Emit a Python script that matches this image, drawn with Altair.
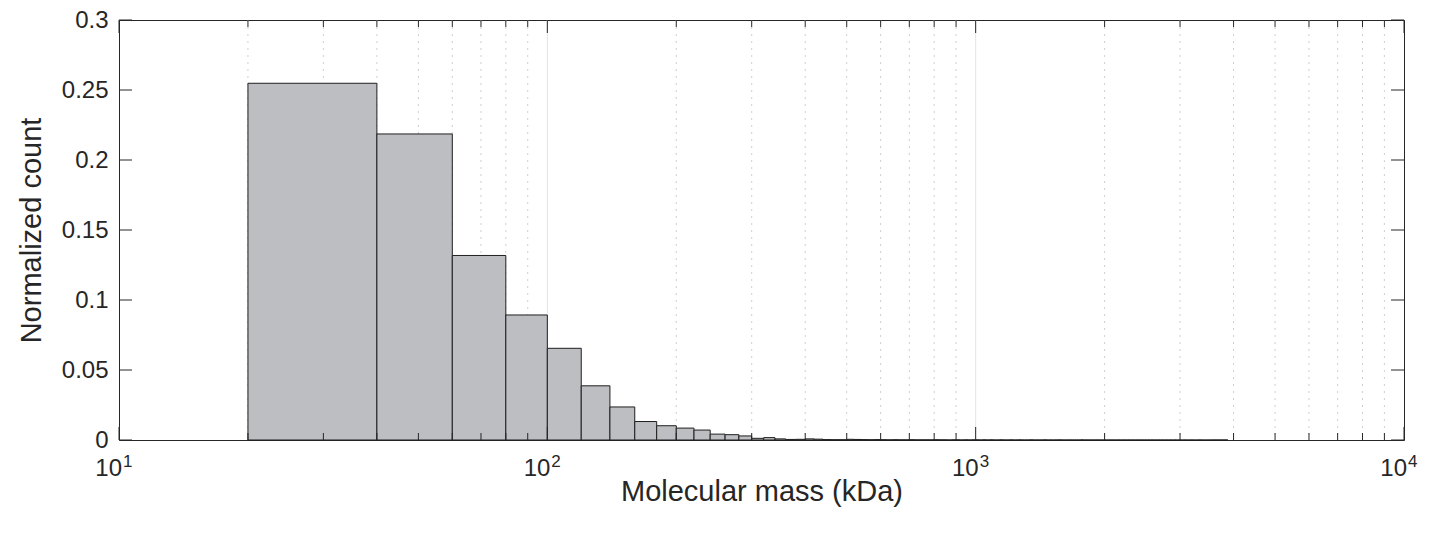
import altair as alt
import pandas as pd

# ---------------- data ----------------
bin_width = 20
bin_first = 20
# normalized counts for 20-kDa bins starting at 20 kDa (20-40, 40-60, ... 980-1000)
head_values = [0.2548, 0.2186, 0.1318, 0.0893, 0.0655, 0.0387, 0.0236, 0.0132, 0.0102, 0.0085,
               0.0071, 0.0042, 0.0038, 0.0029, 0.0012, 0.0017, 0.0008, 0.0004, 0.0005, 0.0008,
               0.0006, 0.0003, 0.0002, 0.0002, 0.0005, 0.0004, 0.0003, 0.0002, 0.0003, 0.0002,
               0.0001, 0.0002, 0.0001, 0.0001, 0.0002, 0.0001, 0.0001, 0.0001, 0.0001, 0.0002,
               0.0001, 0.0001, 0.0, 0.0001, 0.0001, 0.0, 0.0001, 0.0, 0.0001]
# tail bins 1000-1020 ... 3860-3880 (essentially empty)
tail_values = [0.0001, 0.0, 0.0001, 0.0, 0.0001, 0.0, 0.0, 0.0001, 0.0, 0.0, 0.0001, 0.0,
               0.0, 0.0001, 0.0, 0.0, 0.0, 0.0001, 0.0, 0.0, 0.0, 0.0, 0.0001, 0.0,
               0.0, 0.0, 0.0, 0.0, 0.0001, 0.0, 0.0, 0.0, 0.0, 0.0, 0.0, 0.0,
               0.0, 0.0, 0.0001, 0.0, 0.0, 0.0, 0.0, 0.0, 0.0, 0.0, 0.0, 0.0,
               0.0, 0.0, 0.0, 0.0, 0.0, 0.0, 0.0, 0.0, 0.0, 0.0, 0.0, 0.0,
               0.0, 0.0, 0.0, 0.0, 0.0, 0.0, 0.0, 0.0, 0.0, 0.0, 0.0, 0.0,
               0.0, 0.0, 0.0, 0.0, 0.0, 0.0, 0.0, 0.0, 0.0, 0.0, 0.0, 0.0,
               0.0, 0.0, 0.0, 0.0, 0.0, 0.0, 0.0, 0.0, 0.0, 0.0, 0.0, 0.0,
               0.0, 0.0, 0.0, 0.0, 0.0, 0.0, 0.0, 0.0, 0.0, 0.0, 0.0, 0.0,
               0.0, 0.0, 0.0, 0.0, 0.0, 0.0, 0.0, 0.0, 0.0, 0.0, 0.0, 0.0,
               0.0, 0.0, 0.0, 0.0, 0.0, 0.0, 0.0, 0.0, 0.0, 0.0, 0.0, 0.0,
               0.0, 0.0, 0.0, 0.0, 0.0, 0.0, 0.0, 0.0, 0.0, 0.0, 0.0, 0.0]

x_domain = [10, 10000]
y_domain = [0, 0.3]
y_ticks = [0, 0.05, 0.1, 0.15, 0.2, 0.25, 0.3]
x_major = [10, 100, 1000, 10000]
x_major_grid = [100, 1000]
x_minor = [20, 30, 40, 50, 60, 70, 80, 90,
           200, 300, 400, 500, 600, 700, 800, 900,
           2000, 3000, 4000, 5000, 6000, 7000, 8000, 9000]
x_exponents = ["1", "2", "3", "4"]

values = head_values + tail_values
starts = [bin_first + i * bin_width for i in range(len(values))]
bars_df = pd.DataFrame({"start": starts,
                        "end": [s + bin_width for s in starts],
                        "value": values})

W, H = 1285, 420
FONT = "Liberation Sans"
TXT = "#262626"
XT = "Molecular mass (kDa)"
YT = "Normalized count"

xs = alt.Scale(type="log", domain=x_domain, nice=False)
ys = alt.Scale(domain=y_domain, nice=False, zero=False)

maj_df = pd.DataFrame({"v": x_major})
majg_df = pd.DataFrame({"v": x_major_grid})
min_df = pd.DataFrame({"v": x_minor})
yt_df = pd.DataFrame({"v": y_ticks})
lab_df = pd.DataFrame({"v": x_major, "base": ["10"] * 4, "exp": x_exponents})

minor_grid = alt.Chart(min_df).mark_rule(color="#cfcfcf", strokeWidth=1, strokeDash=[2, 5]).encode(
    x=alt.X("v:Q", scale=xs, title=XT))
major_grid = alt.Chart(majg_df).mark_rule(color="#e3e3e3", strokeWidth=1).encode(
    x=alt.X("v:Q", scale=xs, title=XT))

bars = alt.Chart(bars_df).mark_rect(fill="#bdbec2", stroke="#1f1f1f", strokeWidth=1).encode(
    x=alt.X("start:Q", scale=xs, title=XT,
            axis=alt.Axis(labels=False, ticks=False, domain=False, grid=False,
                          titleFont=FONT, titleFontSize=29, titleFontWeight="normal",
                          titleColor=TXT, titleX=W / 2, titleY=60, titleAlign="center",
                          titleBaseline="alphabetic")),
    x2="end:Q",
    y=alt.Y("value:Q", scale=ys, title=YT,
            axis=alt.Axis(values=y_ticks, format="~g", ticks=False, domain=False, grid=False,
                          labelFont=FONT, labelFontSize=24, labelColor=TXT, labelPadding=11,
                          titleFont=FONT, titleFontSize=29, titleFontWeight="normal",
                          titleColor=TXT, titleX=-79, titleY=H / 2, titleAngle=-90,
                          titleAlign="center", titleBaseline="alphabetic")),
    y2=alt.Y2(datum=0),
)

tick_col = "#262626"
bt_major = alt.Chart(maj_df).mark_rule(color=tick_col, strokeWidth=1).encode(
    x=alt.X("v:Q", scale=xs, title=XT), y=alt.value(H), y2=alt.value(H - 13))
tp_major = alt.Chart(maj_df).mark_rule(color=tick_col, strokeWidth=1).encode(
    x=alt.X("v:Q", scale=xs, title=XT), y=alt.value(0), y2=alt.value(13))
bt_minor = alt.Chart(min_df).mark_rule(color=tick_col, strokeWidth=1).encode(
    x=alt.X("v:Q", scale=xs, title=XT), y=alt.value(H), y2=alt.value(H - 7))
tp_minor = alt.Chart(min_df).mark_rule(color=tick_col, strokeWidth=1).encode(
    x=alt.X("v:Q", scale=xs, title=XT), y=alt.value(0), y2=alt.value(7))
yl_ticks = alt.Chart(yt_df).mark_rule(color=tick_col, strokeWidth=1).encode(
    y=alt.Y("v:Q", scale=ys, title=YT), x=alt.value(0), x2=alt.value(13))
yr_ticks = alt.Chart(yt_df).mark_rule(color=tick_col, strokeWidth=1).encode(
    y=alt.Y("v:Q", scale=ys, title=YT), x=alt.value(W - 13), x2=alt.value(W))

base_lab = alt.Chart(lab_df).mark_text(font=FONT, fontSize=24, color=TXT, align="right",
                                       baseline="alphabetic", dx=3).encode(
    x=alt.X("v:Q", scale=xs, title=XT), y=alt.value(H + 36), text="base:N")
exp_lab = alt.Chart(lab_df).mark_text(font=FONT, fontSize=17, color=TXT, align="left",
                                      baseline="alphabetic", dx=4).encode(
    x=alt.X("v:Q", scale=xs, title=XT), y=alt.value(H + 27), text="exp:N")

chart = alt.layer(minor_grid, major_grid, bars, bt_major, tp_major, bt_minor, tp_minor,
                  yl_ticks, yr_ticks, base_lab, exp_lab).properties(
    width=W, height=H,
    autosize=alt.AutoSizeParams(type="none"),
    padding={"left": 111, "top": 12, "right": 18, "bottom": 89},
    background="white",
).configure_view(stroke="#262626", strokeWidth=1)

chart.save("out.html", embed_options={"renderer": "svg", "actions": False})
